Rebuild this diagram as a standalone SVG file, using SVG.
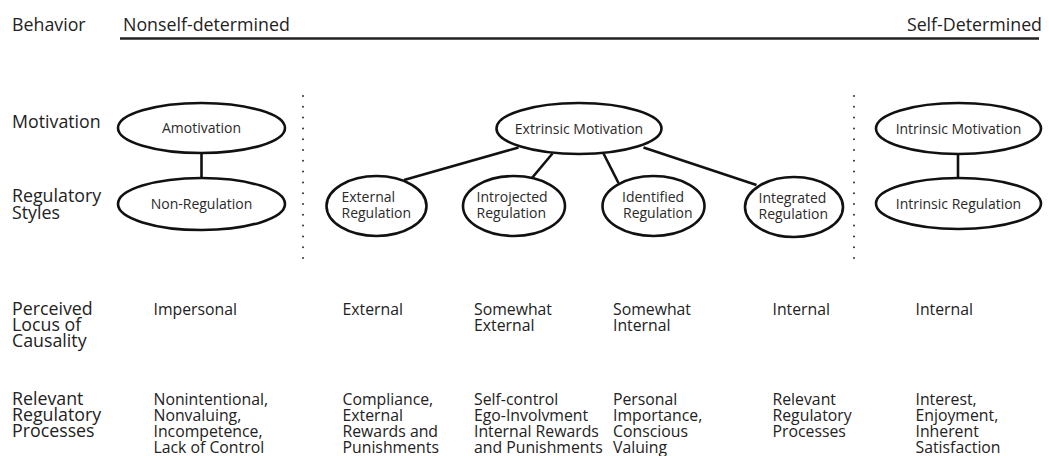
<svg xmlns="http://www.w3.org/2000/svg" width="1049" height="456" viewBox="0 0 1049 456">
  <style>
    text { font-family: "Open Sans", "Liberation Sans", sans-serif; fill: #222; }
    .lbl { font-size: 17.8px; }
    .col { font-size: 15.8px; }
    .nd { font-size: 14px; fill: #2a2a2a; }
    .mid { text-anchor: middle; }
    ellipse { fill: #fff; stroke: #111; stroke-width: 2.6; }
    .edge { stroke: #111; stroke-width: 2.6; fill: none; }
    .dots { stroke: #333; stroke-width: 2; stroke-linecap: round; stroke-dasharray: 0 10.8; fill: none; }
  </style>

  <!-- continuum axis -->
  <g id="axis">
    <text class="lbl" x="12" y="31">Behavior</text>
    <text class="lbl" x="123" y="31">Nonself-determined</text>
    <text class="lbl" x="1042" y="31" text-anchor="end">Self-Determined</text>
    <line x1="120" y1="38.5" x2="1039" y2="38.5" stroke="#222" stroke-width="2.6"/>
  </g>

  <!-- row labels -->
  <g id="row-labels">
    <text class="lbl" x="12" y="128">Motivation</text>
    <text class="lbl" x="12" y="202">Regulatory</text>
    <text class="lbl" x="12" y="218.5">Styles</text>
    <text class="lbl" x="12" y="315">Perceived</text>
    <text class="lbl" x="12" y="331">Locus of</text>
    <text class="lbl" x="12" y="347">Causality</text>
    <text class="lbl" x="12" y="405">Relevant</text>
    <text class="lbl" x="12" y="421">Regulatory</text>
    <text class="lbl" x="12" y="437">Processes</text>
  </g>

  <!-- dotted separators -->
  <g id="separators">
    <line class="dots" x1="303" y1="96" x2="303" y2="258"/>
    <line class="dots" x1="854" y1="96" x2="854" y2="258"/>
  </g>

  <!-- connectors -->
  <g id="connectors">
    <line class="edge" x1="201.5" y1="153" x2="201.5" y2="178"/>
    <line class="edge" x1="518.5" y1="147.5" x2="404" y2="180"/>
    <line class="edge" x1="552.5" y1="153.5" x2="531.5" y2="178.5"/>
    <line class="edge" x1="603.5" y1="153.5" x2="618.5" y2="183"/>
    <line class="edge" x1="643.5" y1="147.5" x2="756.5" y2="185"/>
    <line class="edge" x1="958" y1="154" x2="958" y2="178"/>
  </g>

  <!-- nodes -->
  <g id="amotivation">
    <ellipse cx="201.5" cy="128" rx="83.5" ry="25"/>
    <text class="nd mid" x="201.5" y="133">Amotivation</text>
  </g>
  <g id="non-regulation">
    <ellipse cx="201.5" cy="204" rx="83.5" ry="26"/>
    <text class="nd mid" x="201.5" y="209">Non-Regulation</text>
  </g>
  <g id="extrinsic-motivation">
    <ellipse cx="579" cy="128.5" rx="82.5" ry="25.5"/>
    <text class="nd mid" x="579" y="133.5">Extrinsic Motivation</text>
  </g>
  <g id="external-regulation">
    <ellipse cx="376.5" cy="206" rx="50" ry="30"/>
    <text class="nd" x="341.5" y="201.5">External</text>
    <text class="nd" x="341.5" y="217.5">Regulation</text>
  </g>
  <g id="introjected-regulation">
    <ellipse cx="514" cy="206" rx="51" ry="30"/>
    <text class="nd" x="476.5" y="201.5">Introjected</text>
    <text class="nd" x="476.5" y="217.5">Regulation</text>
  </g>
  <g id="identified-regulation">
    <ellipse cx="653.5" cy="206" rx="51" ry="30"/>
    <text class="nd" x="622" y="201.5">Identified</text>
    <text class="nd" x="623" y="217.5">Regulation</text>
  </g>
  <g id="integrated-regulation">
    <ellipse cx="794" cy="207" rx="49" ry="30"/>
    <text class="nd" x="758.5" y="202.5">Integrated</text>
    <text class="nd" x="758.5" y="218.5">Regulation</text>
  </g>
  <g id="intrinsic-motivation">
    <ellipse cx="958.5" cy="128.5" rx="82.5" ry="25.5"/>
    <text class="nd mid" x="958.5" y="133.5">Intrinsic Motivation</text>
  </g>
  <g id="intrinsic-regulation">
    <ellipse cx="958.5" cy="203.5" rx="82.5" ry="25.5"/>
    <text class="nd mid" x="958.5" y="208.5">Intrinsic Regulation</text>
  </g>

  <!-- perceived locus of causality -->
  <g id="locus">
    <text class="col" x="153.5" y="315">Impersonal</text>
    <text class="col" x="342.5" y="315">External</text>
    <text class="col" x="474" y="315">Somewhat</text>
    <text class="col" x="474" y="331">External</text>
    <text class="col" x="613" y="315">Somewhat</text>
    <text class="col" x="613" y="331">Internal</text>
    <text class="col" x="772.5" y="315">Internal</text>
    <text class="col" x="915.5" y="315">Internal</text>
  </g>

  <!-- relevant regulatory processes -->
  <g id="processes">
    <text class="col" x="153.5" y="405">Nonintentional,</text>
    <text class="col" x="153.5" y="421">Nonvaluing,</text>
    <text class="col" x="153.5" y="437">Incompetence,</text>
    <text class="col" x="153.5" y="453">Lack of Control</text>
    <text class="col" x="342.5" y="405">Compliance,</text>
    <text class="col" x="342.5" y="421">External</text>
    <text class="col" x="342.5" y="437">Rewards and</text>
    <text class="col" x="342.5" y="453">Punishments</text>
    <text class="col" x="474" y="405">Self-control</text>
    <text class="col" x="474" y="421">Ego-Involvment</text>
    <text class="col" x="474" y="437">Internal Rewards</text>
    <text class="col" x="474" y="453">and Punishments</text>
    <text class="col" x="613" y="405">Personal</text>
    <text class="col" x="613" y="421">Importance,</text>
    <text class="col" x="613" y="437">Conscious</text>
    <text class="col" x="613" y="453">Valuing</text>
    <text class="col" x="772.5" y="405">Relevant</text>
    <text class="col" x="772.5" y="421">Regulatory</text>
    <text class="col" x="772.5" y="437">Processes</text>
    <text class="col" x="915.5" y="405">Interest,</text>
    <text class="col" x="915.5" y="421">Enjoyment,</text>
    <text class="col" x="915.5" y="437">Inherent</text>
    <text class="col" x="915.5" y="453">Satisfaction</text>
  </g>
</svg>
